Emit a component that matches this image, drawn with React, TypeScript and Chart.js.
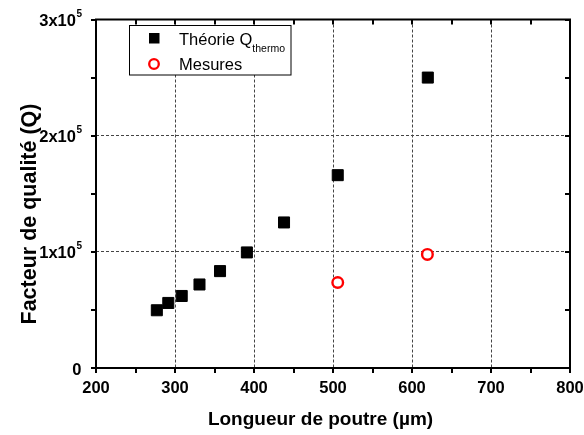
import React, { useEffect, useRef } from "react";
import { Chart, registerables } from "chart.js";

Chart.register(...registerables);

const theorieX = [277, 291.5, 308.5, 331, 357, 391, 438, 506, 620];
const theorieY = [49700, 56000, 62000, 71900, 83400, 99500, 125300, 166000, 250000];
const mesuresX = [506, 619.5];
const mesuresY = [73600, 97800];

const xMajorTicks = [200, 300, 400, 500, 600, 700, 800];
const yMajorTicks = [0, 100000, 200000, 300000];
const yTickLabels = ["0", "1x10", "2x10", "3x10"];
const yTickExp = ["", "5", "5", "5"];

const xTitle = "Longueur de poutre (µm)";
const yTitle = "Facteur de qualité (Q)";
const legendTheorie = "Théorie Q";
const legendTheorieSub = "thermo";
const legendMesures = "Mesures";

const FONT = '"Liberation Sans", Arial, sans-serif';

const decorPlugin = {
  id: "decor",
  afterDraw(chart: any) {
    const ctx = chart.ctx;
    const xs = chart.scales.x;
    const ys = chart.scales.y;
    const left = xs.getPixelForValue(200);
    const right = xs.getPixelForValue(800);
    const top = ys.getPixelForValue(300000);
    const bottom = ys.getPixelForValue(0);
    ctx.save();
    // frame
    ctx.strokeStyle = "#000";
    ctx.lineWidth = 2;
    ctx.strokeRect(left, top, right - left, bottom - top);
    // ticks
    ctx.lineWidth = 2;
    ctx.beginPath();
    for (let v = 200; v <= 800; v += 50) {
      const px = Math.round(xs.getPixelForValue(v));
      ctx.moveTo(px, bottom);
      ctx.lineTo(px, bottom + 5);
      ctx.moveTo(px, top);
      ctx.lineTo(px, top + 5);
    }
    for (let v = 0; v <= 300000; v += 50000) {
      const py = Math.round(ys.getPixelForValue(v));
      ctx.moveTo(left - 5, py);
      ctx.lineTo(left, py);
      ctx.moveTo(right - 5, py);
      ctx.lineTo(right, py);
    }
    ctx.stroke();
    // x tick labels
    ctx.fillStyle = "#000";
    ctx.font = `bold 16.5px ${FONT}`;
    ctx.textAlign = "center";
    ctx.textBaseline = "alphabetic";
    xMajorTicks.forEach((v) => {
      ctx.fillText(String(v), xs.getPixelForValue(v), bottom + 24.5);
    });
    // y tick labels with superscript
    const labelRight = left - 14.5;
    yMajorTicks.forEach((v, i) => {
      const py = ys.getPixelForValue(v);
      ctx.font = `bold 10px ${FONT}`;
      const expW = yTickExp[i] ? ctx.measureText(yTickExp[i]).width : 0;
      ctx.font = `bold 16.5px ${FONT}`;
      ctx.textAlign = "right";
      ctx.fillText(yTickLabels[i], labelRight - expW, py + 6.5);
      if (yTickExp[i]) {
        ctx.font = `bold 10px ${FONT}`;
        ctx.textAlign = "left";
        ctx.fillText(yTickExp[i], labelRight - expW + 0.5, py - 2.5);
      }
    });
    // axis titles
    ctx.font = `bold 19px ${FONT}`;
    ctx.textAlign = "center";
    ctx.fillText(xTitle, 320.5, 425);
    ctx.save();
    ctx.font = `bold 21.5px ${FONT}`;
    ctx.translate(35.5, 214);
    ctx.rotate(-Math.PI / 2);
    ctx.fillText(yTitle, 0, 0);
    ctx.restore();
    // legend
    ctx.fillStyle = "#fff";
    ctx.fillRect(129.5, 25.5, 161.5, 49.5);
    ctx.strokeStyle = "#000";
    ctx.lineWidth = 1;
    ctx.strokeRect(129.5, 25.5, 161.5, 49.5);
    ctx.fillStyle = "#000";
    ctx.fillRect(149, 33, 10.5, 10.5);
    ctx.beginPath();
    ctx.arc(154, 64, 4.8, 0, Math.PI * 2);
    ctx.strokeStyle = "#ff0000";
    ctx.lineWidth = 2.3;
    ctx.stroke();
    ctx.fillStyle = "#000";
    ctx.font = `16.5px ${FONT}`;
    ctx.textAlign = "left";
    ctx.fillText(legendTheorie, 179, 44.5);
    const w = ctx.measureText(legendTheorie).width;
    ctx.font = `10.5px ${FONT}`;
    ctx.fillText(legendTheorieSub, 179 + w, 51.5);
    ctx.font = `16.5px ${FONT}`;
    ctx.fillText(legendMesures, 179, 70);
    ctx.restore();
  },
};

export default function App() {
  const ref = useRef<HTMLCanvasElement>(null);
  useEffect(() => {
    document.body.style.margin = "0";
    const canvas = ref.current!;
    const gridColor = (vals: number[]) => (c: any) =>
      vals.includes(c.tick.value) ? "#444" : "rgba(0,0,0,0)";
    const chart = new Chart(canvas, {
      type: "scatter",
      data: {
        datasets: [
          {
            label: legendTheorie,
            data: theorieX.map((x, i) => ({ x, y: theorieY[i] })),
            pointStyle: "rect",
            pointRadius: 7.8,
            backgroundColor: "#000",
            borderColor: "#000",
            borderWidth: 1,
          },
          {
            label: legendMesures,
            data: mesuresX.map((x, i) => ({ x, y: mesuresY[i] })),
            pointStyle: "circle",
            pointRadius: 5.3,
            backgroundColor: "#fff",
            borderColor: "#ff0000",
            borderWidth: 2.4,
          },
        ],
      },
      options: {
        responsive: false,
        animation: false,
        layout: { padding: { left: 96, right: 14, top: 19.5, bottom: 67 } },
        plugins: { legend: { display: false }, tooltip: { enabled: false } },
        scales: {
          x: {
            type: "linear",
            min: 200,
            max: 800,
            ticks: { display: false, stepSize: 100 },
            grid: { drawTicks: false, color: gridColor([300, 400, 500, 600, 700]), lineWidth: 1 },
            border: { display: false, dash: [3, 2] },
            afterFit: (s: any) => {
              s.height = 0;
            },
          },
          y: {
            type: "linear",
            min: 0,
            max: 300000,
            ticks: { display: false, stepSize: 100000 },
            grid: { drawTicks: false, color: gridColor([100000, 200000]), lineWidth: 1 },
            border: { display: false, dash: [3, 2] },
            afterFit: (s: any) => {
              s.width = 0;
            },
          },
        },
      },
      plugins: [decorPlugin],
    });
    return () => chart.destroy();
  }, []);
  return (
    <div style={{ position: "absolute", left: 0, top: 0, width: 584, height: 435, background: "#fff" }}>
      <canvas ref={ref} width={584} height={435} />
    </div>
  );
}
